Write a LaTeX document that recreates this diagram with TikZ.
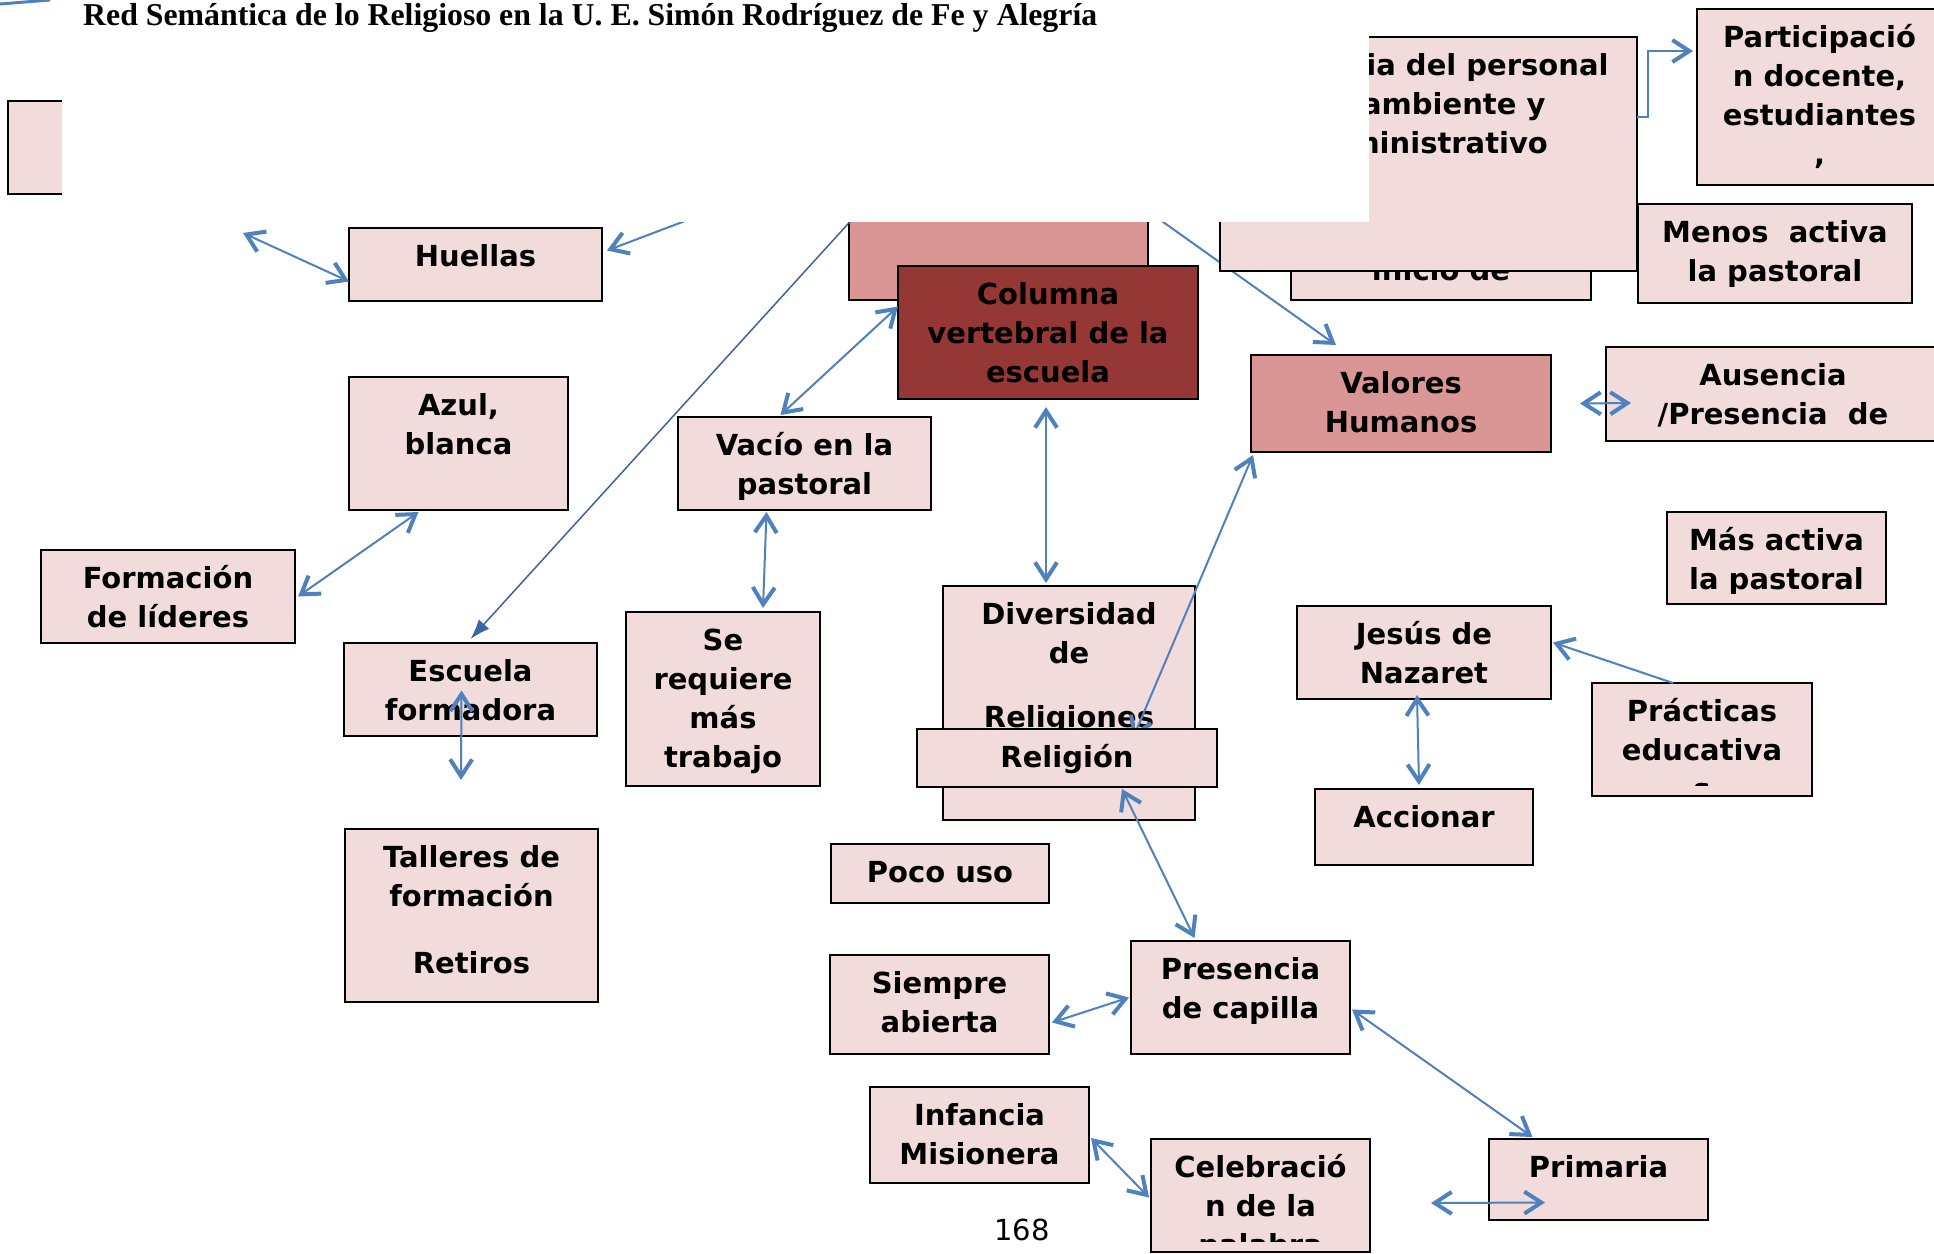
\documentclass[tikz,border=0pt]{standalone}
\usepackage{fontspec}
\setmainfont{DejaVu Sans}
\newfontfamily\titlefont{Liberation Serif}
\usetikzlibrary{arrows.meta,calc}

\definecolor{boxpink}{HTML}{F2DCDB}
\definecolor{midred}{HTML}{D99694}
\definecolor{darkred}{HTML}{953735}
\definecolor{arrowblue}{HTML}{4F81BD}
\definecolor{lineblue}{HTML}{3B64A0}

\tikzset{
  chev/.tip={Straight Barb[length=17pt,width=22pt,line width=4pt]},
  tbox/.style={draw=black, line width=2.5pt, anchor=north west, inner sep=0pt, outer sep=0pt},
  boxtext/.style={align=center, inner sep=0pt, outer sep=0pt, anchor=north,
    font=\fontsize{29}{39}\selectfont\bfseries},
  titletext/.style={inner sep=0pt, anchor=base west,
    font=\titlefont\bfseries\fontsize{31.8}{36}\selectfont},
  biarrow/.style={draw=arrowblue, line width=2pt, chev-chev},
  onearrow/.style={draw=arrowblue, line width=2pt, -chev},
  darkarrow/.style={draw=lineblue, line width=1.5pt, -{Latex[length=20pt,width=14pt]}},
}

% box: [fill] name, x, y, width, height, text (text cut at the inner margin)
\newcommand{\tbox}[7][boxpink]{%
  \node[tbox, fill=#1, minimum width=#5pt, minimum height=#6pt] (#2) at (#3,#4) {};
  \begin{scope}
    \clip ([yshift=11pt]#2.south west) rectangle (#2.north east);
    \node[boxtext] (#2-t) at ([yshift=-10pt]#2.north) {\rule{0pt}{28pt}#7};
  \end{scope}}

\begin{document}
\begin{tikzpicture}[x=1pt, y=-1pt]
  \useasboundingbox (0,0) rectangle (1934,1253);
  \fill[white] (0,0) rectangle (1934,1253);

  % ---- stray stroke in the corner -------------------
  \coordinate (tla) at (0,4);
  \coordinate (tlb) at (50,0);
  \draw[arrowblue, line width=3pt] (tla) -- (tlb);

  % ---- boxes that sit under the cover ---------------
  \tbox{leftcut}{8}{101}{150}{93}{}
  \tbox[midred]{colback}{849}{150}{299}{150}{}
  \tbox{inicio}{1291}{242}{300}{58}{inicio de}

  % ---- main boxes -----------------------------------
  \tbox{huellas}{349}{228}{253}{73}{Huellas}
  \tbox[darkred]{columna}{898}{266}{300}{133}{Columna\\vertebral de la\\escuela}
  \tbox[midred]{valores}{1251}{355}{300}{97}{Valores\\Humanos}
  \tbox{ausencia}{1606}{347}{334}{94}{Ausencia\\/Presencia\ \ de}
  \tbox{azul}{349}{377}{219}{133}{Azul,\\blanca}
  \tbox{vacio}{678}{417}{253}{93}{Vacío en la\\pastoral}
  \tbox{formacion}{41}{550}{254}{93}{Formación\\de líderes}
  \tbox{masactiva}{1667}{512}{219}{92}{Más activa\\la pastoral}
  \tbox{diversidad}{943}{586}{252}{234}{Diversidad\\de\\[25pt]Religiones}
  \tbox{jesus}{1297}{606}{254}{93}{Jesús de\\Nazaret}
  \tbox{serequiere}{626}{612}{194}{174}{Se\\requiere\\más\\trabajo}
  \tbox{escuela}{344}{643}{253}{93}{Escuela\\formadora}
  \tbox{practicas}{1592}{683}{220}{113}{Prácticas\\educativa\\s}
  \tbox{accionar}{1315}{789}{218}{76}{Accionar}
  \tbox{talleres}{345}{829}{253}{173}{Talleres de\\formación\\[28pt]Retiros}
  \tbox{pocouso}{831}{844}{218}{59}{Poco uso}
  \tbox{siempre}{830}{955}{219}{99}{Siempre\\abierta}
  \tbox{capilla}{1131}{941}{219}{113}{Presencia\\de capilla}
  \tbox{infancia}{870}{1087}{219}{96}{Infancia\\Misionera}
  \tbox{celebracion}{1151}{1139}{219}{113}{Celebració\\n de la\\palabra}
  \tbox{primaria}{1489}{1139}{219}{81}{Primaria}

  % ---- religion goes over the line to valores -------
  \coordinate (relend) at (1133,738);
  \draw[biarrow] (relend) -- ([xshift=2pt,yshift=-3pt]valores.south west);
  \tbox{religion}{917}{729}{300}{58}{Religión}

  % ---- lines that start under the cover -------------
  \coordinate (hida) at (767,190);
  \coordinate (hidb) at (897,170);
  \coordinate (hidc) at (1090,170);
  \draw[onearrow] (hida) -- ([xshift=5pt,yshift=14pt]huellas.east);
  \draw[darkarrow] (hidb) -- ([yshift=4pt]escuela.north);
  \draw[onearrow] (hidc) -- ([xshift=-65pt,yshift=10pt]valores.north);

  \tbox{personal}{1220}{37}{417}{234}{Ausencia del personal\\de ambiente y\\administrativo}

  % ---- white cover and title ------------------------
  \fill[white] (62,0) rectangle (1369,222);
  \node[titletext] (title) at (83,25)
    {Red Semántica de lo Religioso en la U. E. Simón Rodríguez de Fe y Alegría};

  % ---- top right ------------------------------------
  \tbox{participacion}{1697}{9}{245}{176}{Participació\\n docente,\\estudiantes\\,}
  \tbox{menos}{1638}{204}{274}{99}{Menos\ \ activa\\la pastoral}
  \draw[onearrow] ([yshift=37pt]personal.east) -- ++(11,0)
    |- ([xshift=-4pt,yshift=46pt]participacion.west);

  % ---- connectors -----------------------------------
  \coordinate (hleft) at (243,233);
  \draw[biarrow] (hleft) -- ([yshift=-17pt]huellas.west);
  \draw[biarrow] ([xshift=-40pt,yshift=-2pt]azul.south) -- ([xshift=3pt]formacion.east);
  \draw[biarrow] ([yshift=26pt]columna.west) -- ([xshift=-24pt,yshift=2pt]vacio.north);
  \draw[biarrow] ([xshift=-2pt,yshift=-8pt]columna.south) -- ([xshift=-23pt,yshift=3pt]diversidad.north);
  \draw[biarrow] ([xshift=-38pt,yshift=-2pt]vacio.south) -- ([xshift=40pt,yshift=4pt]serequiere.north);
  \draw[biarrow] ([xshift=29pt]valores.east) -- ([xshift=25pt,yshift=-9pt]ausencia.west);
  \draw[onearrow] ([xshift=-29pt]practicas.north) -- ([xshift=2pt,yshift=10pt]jesus.east);
  \draw[biarrow] ([xshift=-7pt,yshift=4pt]jesus.south) -- ([xshift=-5pt,yshift=4pt]accionar.north);
  \coordinate (escdown) at (461,780);
  \draw[biarrow] ([xshift=-9pt,yshift=-1pt]escuela.center) -- (escdown);
  \draw[biarrow] ([xshift=55pt,yshift=-2pt]religion.south) -- ([xshift=-46pt,yshift=3pt]capilla.north);
  \draw[biarrow] ([xshift=3pt,yshift=-18pt]siempre.east) -- ([xshift=-2pt]capilla.west);
  \draw[biarrow] ([xshift=2pt,yshift=-12pt]capilla.east) -- ([xshift=-66pt,yshift=2pt]primaria.north);
  \draw[biarrow] ([xshift=2pt,yshift=-3pt]infancia.east) -- ([xshift=-2pt,yshift=-2pt]celebracion.west);
  \coordinate (prileft) at (1431,1203);
  \draw[biarrow] (prileft) -- ([xshift=56pt,yshift=-23pt]primaria.west);

  % ---- page number ----------------------------------
  \node[anchor=base west, inner sep=0pt, font=\fontsize{29}{35}\selectfont] (pagenum) at (994,1240) {168};
\end{tikzpicture}
\end{document}
